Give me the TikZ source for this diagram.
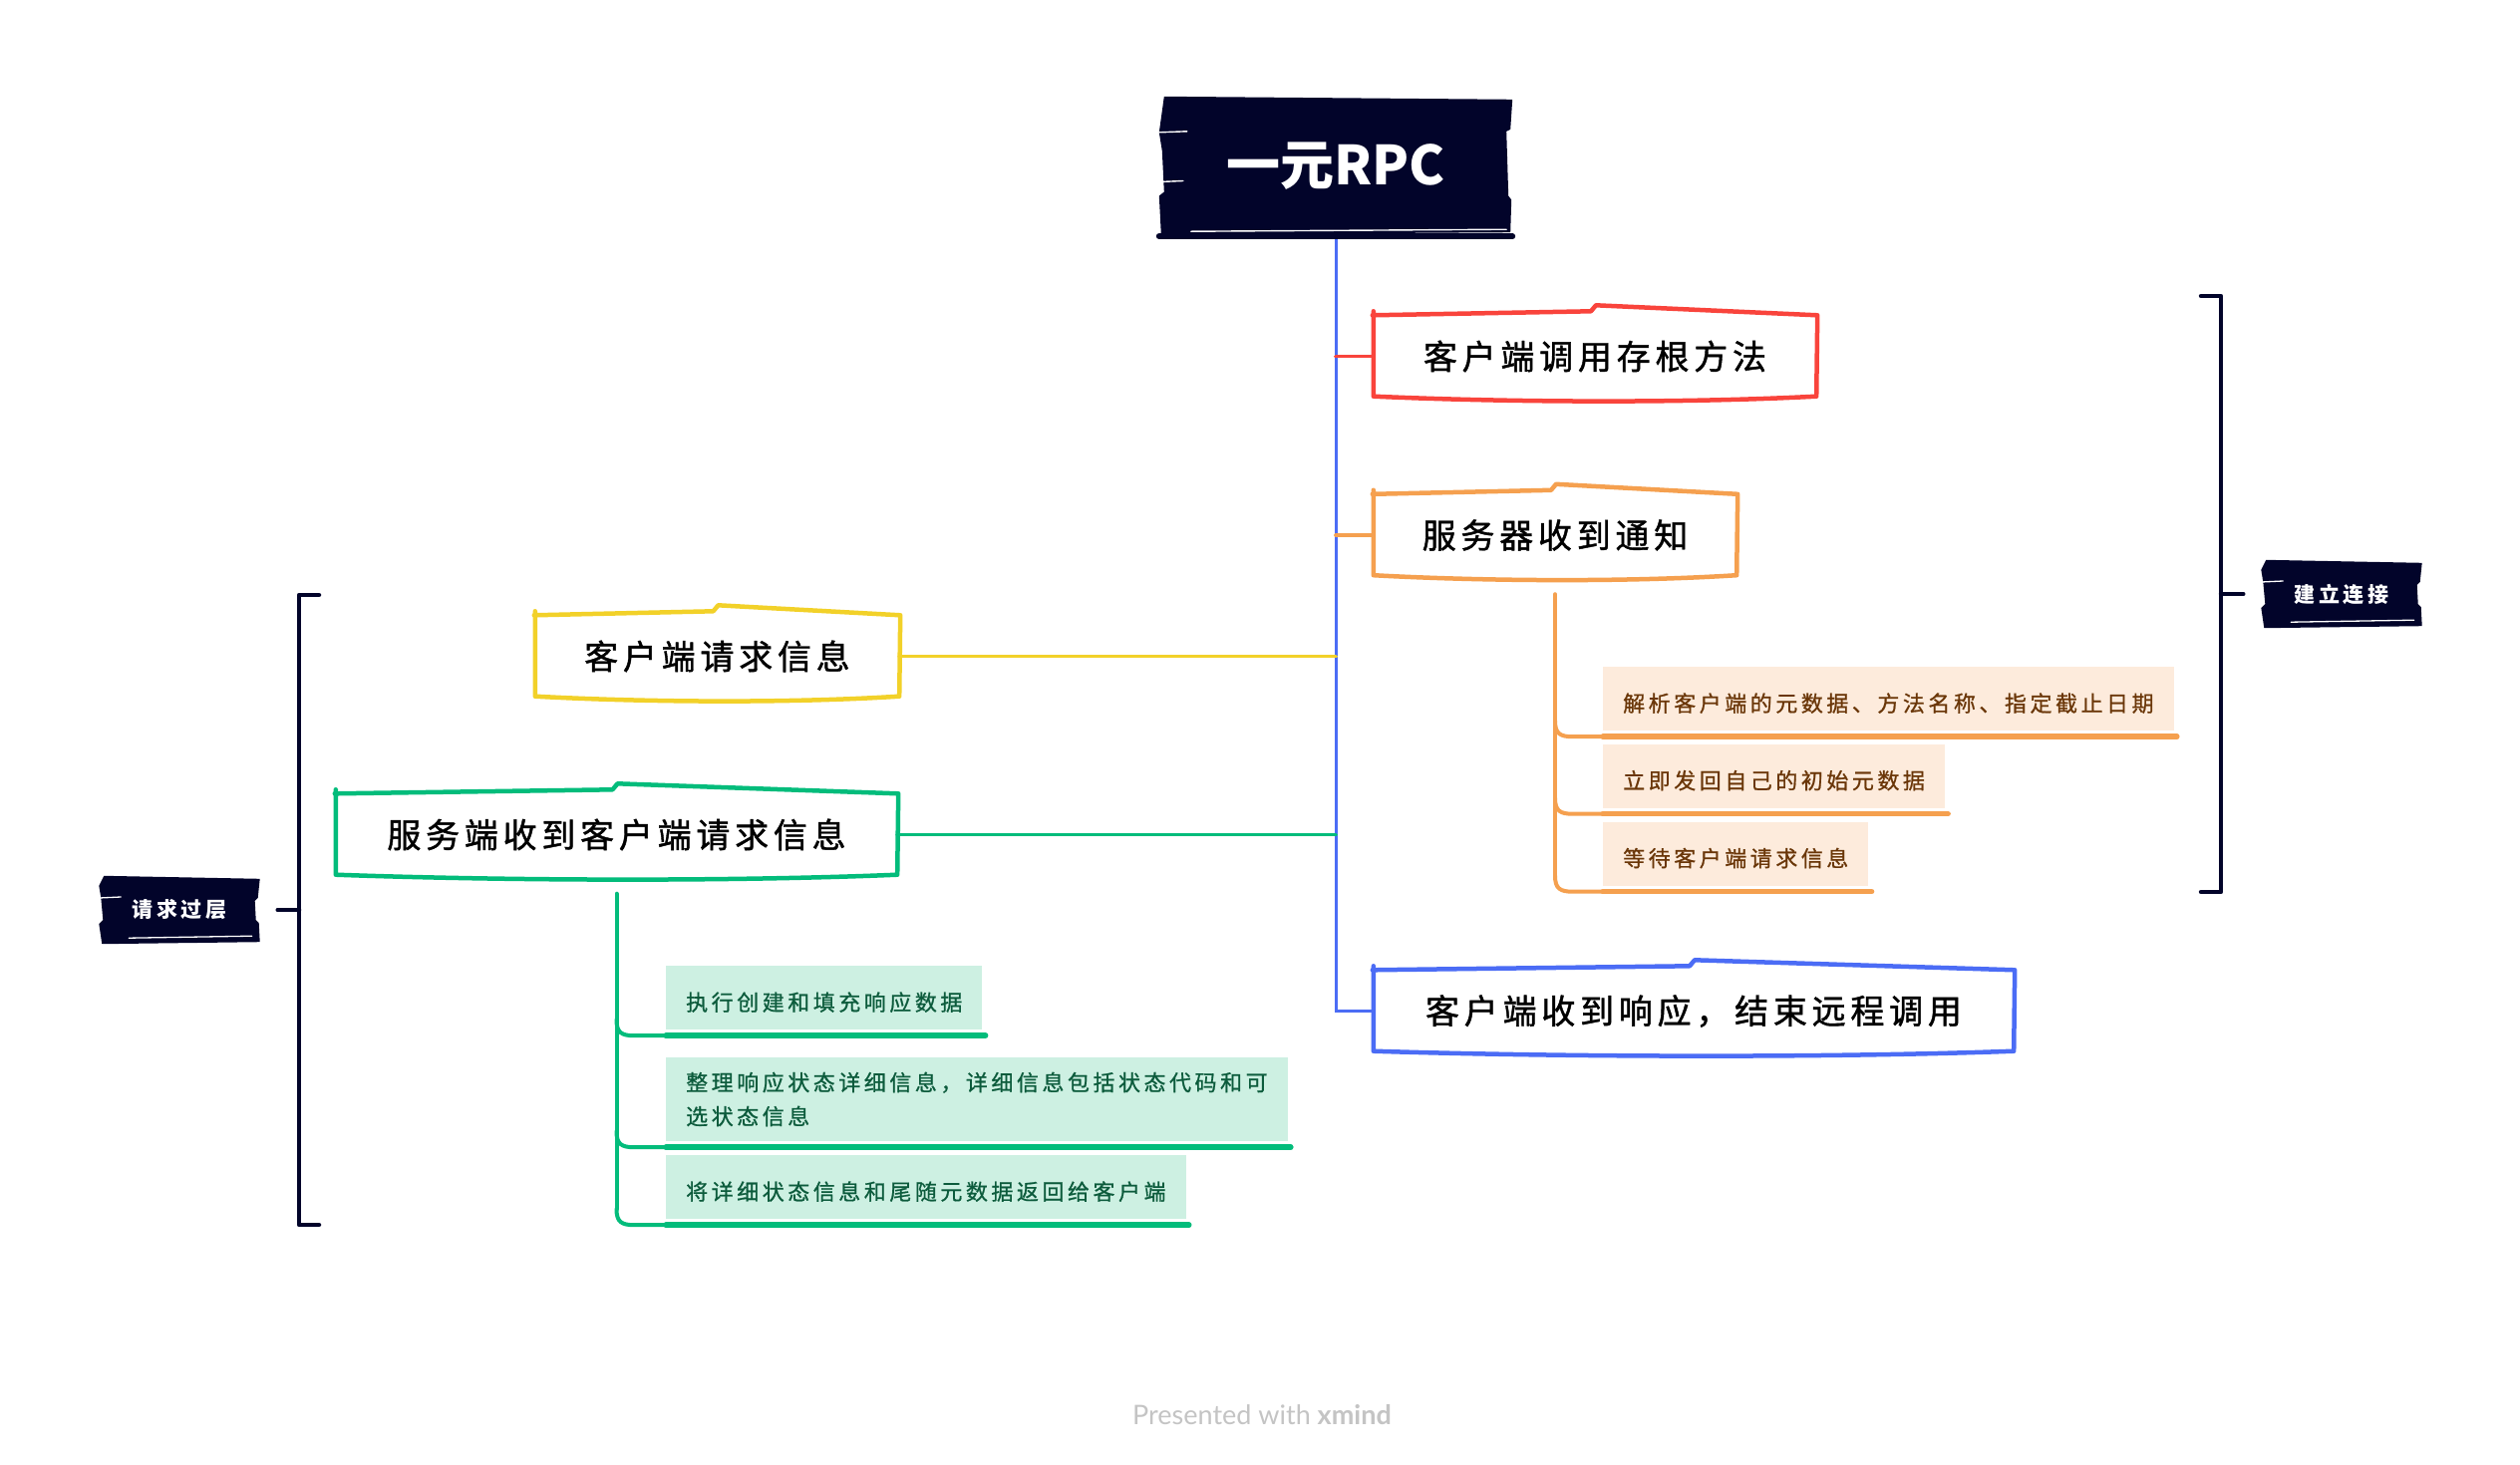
\documentclass[tikz,border=0pt]{standalone}
\usepackage{fontspec}
\usetikzlibrary{calc}
\setmainfont{Noto Sans CJK SC}
\newfontfamily\topicfont[LetterSpace=14,FakeBold=1.2]{Noto Sans CJK SC}
\newfontfamily\subfont[LetterSpace=16,FakeBold=0.8]{Noto Sans CJK SC}
\newfontfamily\labelfont[LetterSpace=18]{Noto Sans CJK SC}
\newfontfamily\rootfont{Noto Sans CJK SC}
\newfontfamily\footfont{Lato}

\definecolor{navy}{HTML}{02042A}
\definecolor{redc}{HTML}{F9443C}
\definecolor{orangec}{HTML}{F5A04F}
\definecolor{yellowc}{HTML}{F2D129}
\definecolor{greenc}{HTML}{03BC7B}
\definecolor{bluec}{HTML}{4B6CF5}
\definecolor{orangebg}{HTML}{FDEBDC}
\definecolor{greenbg}{HTML}{CDF0E2}
\definecolor{orangetx}{HTML}{6A3608}
\definecolor{greentx}{HTML}{0C5B3C}
\definecolor{foot}{HTML}{C4C4C4}

% hand-drawn outline around a main topic
\newcommand\sketchframe[2]{%
  \draw[#2, line width=4.5pt, line cap=round, line join=round]
    ($(#1.north west)+(-1,1)$)
    -- ($(#1.north west)!0.5!(#1.north east)+(-4,-3)$)
    -- ($(#1.north west)!0.5!(#1.north east)+(1,-9)$)
    -- ($(#1.north east)+(1,1)$)
    -- ($(#1.south east)+(0,-2)$)
    .. controls ($(#1.south east)!0.3!(#1.south west)+(0,5)$)
            and ($(#1.south east)!0.7!(#1.south west)+(0,4)$) ..
       ($(#1.south west)+(0,-2)$)
    -- ($(#1.north west)+(0,-3)$);
}
% rough ink patch behind a dark node
\newcommand\inkpatch[1]{%
  \fill[navy]
    ($(#1.north west)+(5,0)$)
    -- ($(#1.north east)+(0,3)$)
    -- ($(#1.east)+(-2,-12)$)
    -- ($(#1.east)+(-5,-9)$)
    -- ($(#1.east)+(-4,10)$)
    -- ($(#1.east)+(-1,13)$)
    -- ($(#1.south east)+(0,-2)$)
    -- ($(#1.south west)+(3,0)$)
    -- ($(#1.west)+(0,14)$)
    -- ($(#1.west)+(4,10)$)
    -- ($(#1.west)+(2,-12)$)
    -- ($(#1.north west)+(0,10)$) -- cycle;
  \draw[white, line width=1.3pt, line cap=round]
    ($(#1.south west)+(30,-6)$) -- ($(#1.south east)+(-8,-8)$);
  \draw[white, line width=1.3pt, line cap=round]
    ($(#1.west)+(0,-12)$) -- ($(#1.west)+(22,-13)$);
}

\begin{document}
\begin{tikzpicture}[x=1pt, y=-1pt,
  topic/.style={minimum height=84pt, inner sep=0pt, text=black,
    font=\topicfont\fontsize{34}{40}\selectfont},
  sub/.style={anchor=west, inner xsep=20pt, inner ysep=0pt, minimum height=64pt,
    align=left, font=\subfont\fontsize{22}{34}\selectfont},
  oneline/.style={text height=30pt, text depth=4pt},
  osub/.style={sub, oneline, fill=orangebg, text=orangetx},
  gsub/.style={sub, fill=greenbg, text=greentx},
  tag/.style={minimum width=161pt, minimum height=68pt, inner sep=0pt, text=white,
    font=\labelfont\bfseries\fontsize{21}{24}\selectfont},
  conn/.style={line width=3.8pt, line cap=round},
  under/.style={line width=5.5pt, line cap=round},
  bracket/.style={navy, line width=4.5pt, line cap=round, line join=round}]

\useasboundingbox[fill=white] (0,0) rectangle (2528,1470);

% ---- nodes ----
\node[minimum width=354pt, minimum height=143pt, inner sep=0pt] (root) at (1340,166.5) {};
\node[topic, minimum width=444pt] (call)   at (1600,357.5) {客户端调用存根方法};
\node[topic, minimum width=364pt] (notify) at (1560,537)   {服务器收到通知};
\node[topic, minimum width=365pt] (req)    at (719.5,658.5) {客户端请求信息};
\node[topic, minimum width=563pt] (srv)    at (618.5,837.5) {服务端收到客户端请求信息};
\node[topic, minimum width=642pt] (resp)   at (1699,1014.5) {客户端收到响应，结束远程调用};

\node[osub] (o1) at (1608,701)   {解析客户端的元数据、方法名称、指定截止日期};
\node[osub] (o2) at (1608,778.5) {立即发回自己的初始元数据};
\node[osub] (o3) at (1608,856.5) {等待客户端请求信息};

\node[gsub, oneline] (g1) at (668,1001) {执行创建和填充响应数据};
\node[gsub, minimum height=84pt] (g2) at (668,1103)
  {整理响应状态详细信息，详细信息包括状态代码和可\\选状态信息};
\node[gsub, oneline] (g3) at (668,1191) {将详细状态信息和尾随元数据返回给客户端};

\node[tag] (lay) at (180,913) {};
\node[tag] (est) at (2349,596) {};

% ---- trunk and first-level connectors ----
\draw[bluec, line width=3pt] (root.south) |- (resp.west);
\draw[redc, conn] (root.south |- call.west) -- (call.west);
\draw[orangec, conn] (root.south |- notify.west) -- (notify.west);
\draw[yellowc, conn] (req.east) -- (root.south |- req.east);
\draw[greenc, conn] (srv.east) -- (root.south |- srv.east);

% ---- topic outlines ----
\sketchframe{call}{redc}
\sketchframe{notify}{orangec}
\sketchframe{req}{yellowc}
\sketchframe{srv}{greenc}
\sketchframe{resp}{bluec}

% ---- root ----
\fill[navy] ($(root.north west)+(5,2)$) -- ($(root.north east)+(0,5)$)
  -- ($(root.north east)+(-2,35)$) -- ($(root.north east)+(-6,37)$)
  -- ($(root.east)+(-4,30)$) -- ($(root.east)+(-1,34)$)
  -- ($(root.south east)+(-2,-5)$) -- ($(root.south west)+(2,-3)$)
  -- ($(root.west)+(0,30)$) -- ($(root.west)+(5,26)$)
  -- ($(root.west)+(3,-15)$) -- ($(root.north west)+(0,38)$) -- cycle;
\draw[navy, line width=6pt, line cap=round] ($(root.south west)+(0,-1)$) -- ($(root.south east)+(0,-1)$);
\draw[white, line width=1.4pt, line cap=round] ($(root.south west)+(32,-6)$) -- ($(root.south east)+(-6,-8)$);
\draw[white, line width=1.4pt, line cap=round] ($(root.north west)+(0,38)$) -- ($(root.north west)+(28,37)$);
\draw[white, line width=1.4pt, line cap=round] ($(root.west)+(0,16)$) -- ($(root.west)+(24,15)$);
\node[text=white, font=\rootfont\bfseries\fontsize{54}{60}\selectfont] at (root) {一元RPC};

% ---- orange branch ----
\coordinate (ob) at ($(notify.south)+(0,17)$);
\foreach \n in {o1,o2,o3} {
  \coordinate (u) at ($(\n.south west)+(0,6)$);
  \draw[orangec, line width=4pt, line cap=round]
    ($(ob |- u)+(0,-16)$) .. controls ($(ob |- u)+(0,-3)$) and ($(ob |- u)+(5,0)$) ..
    ($(ob |- u)+(18,0)$) -- (u);
  \draw[orangec, under] (u) -- ($(\n.south east)+(3,6)$);
}
\draw[orangec, line width=4pt, line cap=round] (ob) -- ($(ob |- o3.south)+(0,-10)$);

% ---- green branch ----
\coordinate (gb) at ($(srv.south)+(0,17)$);
\foreach \n in {g1,g2,g3} {
  \coordinate (u) at ($(\n.south west)+(0,6)$);
  \draw[greenc, line width=4pt, line cap=round]
    ($(gb |- u)+(0,-16)$) .. controls ($(gb |- u)+(0,-3)$) and ($(gb |- u)+(5,0)$) ..
    ($(gb |- u)+(18,0)$) -- (u);
  \draw[greenc, under] (u) -- ($(\n.south east)+(3,6)$);
}
\draw[greenc, line width=4pt, line cap=round] (gb) -- ($(gb |- g3.south)+(0,-10)$);

% ---- summary brackets ----
\draw[bracket] (320,597) -- (300,597) -- (300,1229) -- (320,1229);
\coordinate (lmid) at (300,913);
\draw[bracket] ($(lay.east)+(18,0)$) -- (lmid);
\inkpatch{lay}
\node[text=white, font=\labelfont\bfseries\fontsize{21}{24}\selectfont] at (lay) {请求过层};

\draw[bracket] (2208,297) -- (2228,297) -- (2228,895) -- (2208,895);
\coordinate (rmid) at (2228,596);
\draw[bracket] (rmid) -- ($(est.west)+(-18,0)$);
\inkpatch{est}
\node[text=white, font=\labelfont\bfseries\fontsize{21}{24}\selectfont] at (est) {建立连接};

% ---- footer ----
\node[text=foot, font=\footfont\fontsize{27}{32}\selectfont] (foot) at (1266,1420)
  {Presented with \textbf{xmind}};
\end{tikzpicture}
\end{document}
